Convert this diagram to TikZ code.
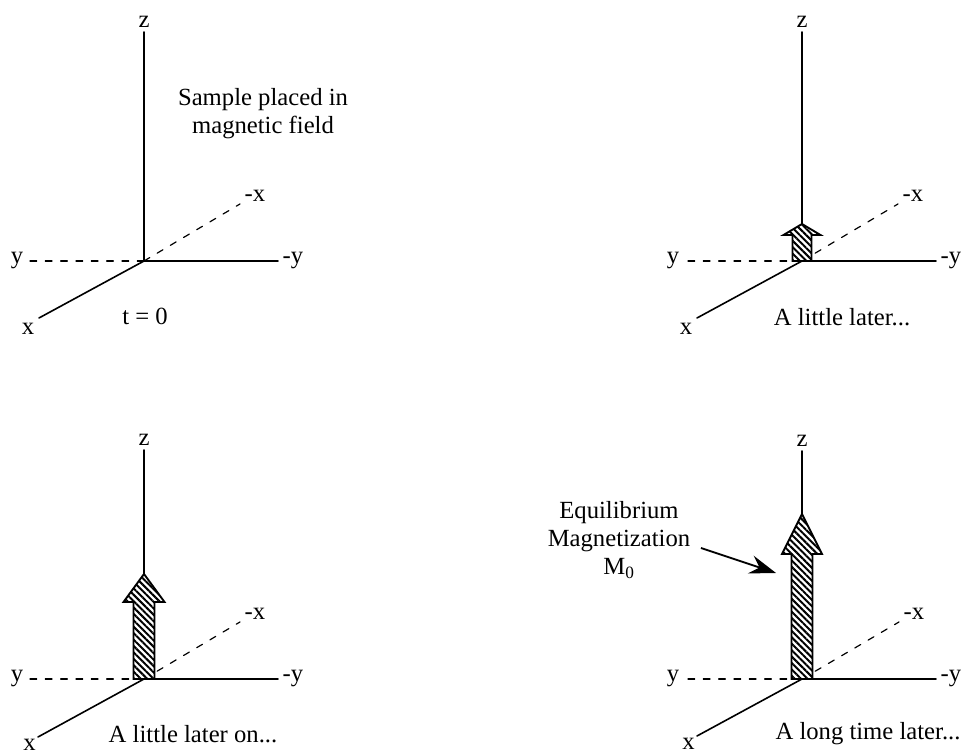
\documentclass[tikz,border=0pt]{standalone}
\usepackage{fontspec}
\setmainfont{Liberation Serif}
\usetikzlibrary{arrows.meta,patterns.meta}
\usepackage{tkz-euclide}

\tikzset{
  axlab/.style={font=\fontsize{18.5}{21}\selectfont},
  magarrow/.style={draw=black,line width=1.4pt,
    postaction={pattern={Lines[angle=-45,distance=3.4pt,line width=1.5pt]}},fill=white},
  hint/.style={line width=1.4pt,-{Stealth[length=20pt,width=14pt,inset=7pt]}}
}

\begin{document}
\begin{tikzpicture}[x=0.75pt,y=0.75pt,font=\fontsize{18.5}{21}\selectfont]
\useasboundingbox (0,0) rectangle (971,756);
\tkzSetUpLine[line width=1.2pt,color=black]

% four panels: origin, z, -y, y, x, -x
\tkzDefPoints{144/495/O1,144/724/Z1,278/495/M1,28/495/P1,39/438/X1,240/552/N1}
\tkzDefPoints{802/495/O2,802/724/Z2,936/495/M2,684/495/P2,697/438/X2,898/552/N2}
\tkzDefPoints{144/77/O3,144/306/Z3,278/77/M3,28/77/P3,38/19/X3,240/134/N3}
\tkzDefPoints{802/77/O4,802/305/Z4,936/77/M4,684/77/P4,697/20/X4,899/134/N4}

\tkzDrawSegments[line width=0.9pt,dash pattern=on 5pt off 6.5pt](O1,P1 O1,N1 O2,P2 O2,N2)
\tkzDrawSegments[line width=0.9pt,dash pattern=on 5pt off 6.5pt](O3,P3 O3,N3 O4,P4 O4,N4)
\tkzDrawSegments(O1,Z1 O1,M1 O1,X1 O2,Z2 O2,M2 O2,X2)
\tkzDrawSegments(O3,Z3 O3,M3 O3,X3 O4,Z4 O4,M4 O4,X4)

% magnetization vectors
\filldraw[magarrow] (O2) ++(-9.5,0) -- ++(0,26) -- ++(-9,0) -- ++(18.5,11)
  -- ++(18.5,-11) -- ++(-9,0) -- ++(0,-26) -- cycle;
\filldraw[magarrow] (O3) ++(-10.5,0) -- ++(0,77) -- ++(-10,0) -- ++(20.5,28)
  -- ++(20.5,-28) -- ++(-10,0) -- ++(0,-77) -- cycle;
\filldraw[magarrow] (O4) ++(-10.5,0) -- ++(0,125) -- ++(-9.5,0) -- ++(20,40)
  -- ++(20,-40) -- ++(-9.5,0) -- ++(0,-125) -- cycle;

\tkzLabelPoint[above,axlab](Z1){z}
\tkzLabelPoint[above,axlab](Z2){z}
\tkzLabelPoint[above,axlab](Z3){z}
\tkzLabelPoint[above,axlab](Z4){z}
\tkzLabelPoint[right,axlab](M1){-y}
\tkzLabelPoint[right,axlab](M2){-y}
\tkzLabelPoint[right,axlab](M3){-y}
\tkzLabelPoint[right,axlab](M4){-y}
\tkzLabelPoint[left,axlab](P1){y}
\tkzLabelPoint[left,axlab](P2){y}
\tkzLabelPoint[left,axlab](P3){y}
\tkzLabelPoint[left,axlab](P4){y}
\tkzLabelPoint[below left,axlab](X1){x}
\tkzLabelPoint[below left,axlab](X2){x}
\tkzLabelPoint[below left,inner sep=1.5pt,axlab](X3){x}
\tkzLabelPoint[below left,inner sep=1.5pt,axlab](X4){x}
\tkzLabelPoint[right,yshift=6pt,axlab](N1){-x}
\tkzLabelPoint[right,yshift=6pt,axlab](N2){-x}
\tkzLabelPoint[right,yshift=6pt,axlab](N3){-x}
\tkzLabelPoint[right,yshift=6pt,axlab](N4){-x}

\node[align=center] (sample) at (263,642) {Sample placed in\\magnetic field};
\node (t0) at (145,440) {t = 0};
\node (later) at (842,439) {A little later...};
\node (lateron) at (193,22) {A little later on...};
\node (longtime) at (868,22) {A long time later...};

\node[align=center] (eq) at (619,216) {Equilibrium\\Magnetization\\M\textsubscript{0}};
\coordinate (eqtip) at (776,183);
\draw[hint] ([shift={(6,-8)}]eq.east) -- (eqtip);

\end{tikzpicture}
\end{document}
